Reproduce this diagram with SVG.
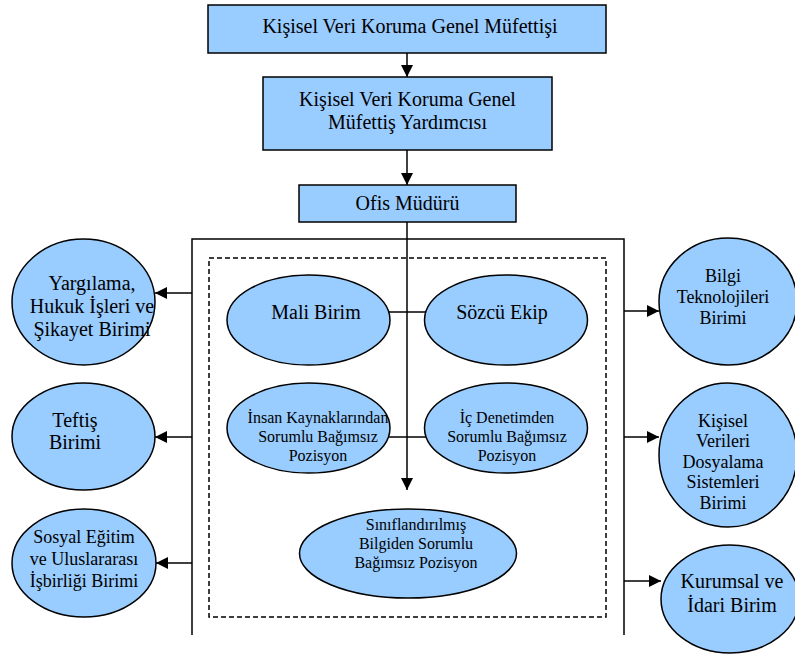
<svg xmlns="http://www.w3.org/2000/svg" width="795" height="655" viewBox="0 0 795 655">
<style>
.box{fill:#99CCFF;stroke:#000;stroke-width:1.5}
.ell{fill:#99CCFF;stroke:#000;stroke-width:1.5}
.ln{fill:none;stroke:#000;stroke-width:1.5}
.arr{fill:none;stroke:#000;stroke-width:1.5;marker-end:url(#ah)}
text{font-family:"Liberation Serif","Times New Roman",serif;fill:#000;text-anchor:middle}
.t20{font-size:20px}
.t18{font-size:18px}
.t16{font-size:16px}
</style>
<defs>
<marker id="ah" viewBox="0 0 12 12" refX="12" refY="6" markerWidth="12" markerHeight="12" markerUnits="userSpaceOnUse" orient="auto">
<path d="M0,0 L12,6 L0,12 Z" fill="#000"/>
</marker>
</defs>
<rect width="795" height="655" fill="#fff"/>
<g id="connectors">
<line class="arr" x1="407" y1="53" x2="407" y2="77"/>
<line class="arr" x1="407" y1="150" x2="407" y2="185"/>
<line class="arr" x1="407" y1="222" x2="407" y2="490"/>
<polyline class="ln" points="192,635 192,239 624,239 624,635"/>
<rect x="209" y="258" width="397" height="359" fill="none" stroke="#000" stroke-width="1.5" stroke-dasharray="5,3"/>
<line class="ln" x1="389" y1="312" x2="426" y2="312"/>
<line class="ln" x1="389" y1="437" x2="426" y2="437"/>
<line class="arr" x1="192" y1="293" x2="155" y2="293"/>
<line class="arr" x1="192" y1="437" x2="155" y2="437"/>
<line class="arr" x1="192" y1="563" x2="156" y2="563"/>
<line class="arr" x1="624" y1="311" x2="659" y2="311"/>
<line class="arr" x1="624" y1="437" x2="659" y2="437"/>
<line class="arr" x1="624" y1="581" x2="661" y2="581"/>
</g>
<g id="genel-mufettis">
<rect class="box" x="208" y="5" width="398" height="48"/>
<text class="t20" x="410" y="33">Kişisel Veri Koruma Genel Müfettişi</text>
</g>
<g id="genel-mufettis-yardimcisi">
<rect class="box" x="263" y="77" width="289" height="73"/>
<text class="t20" x="407.5" y="106">Kişisel Veri Koruma Genel</text>
<text class="t20" x="407.5" y="129">Müfettiş Yardımcısı</text>
</g>
<g id="ofis-muduru">
<rect class="box" x="299" y="185" width="217" height="37"/>
<text class="t20" x="407.5" y="210">Ofis Müdürü</text>
</g>
<g id="mali-birim">
<ellipse class="ell" cx="308.5" cy="320" rx="81.5" ry="45"/>
<text class="t20" x="316" y="319">Mali Birim</text>
</g>
<g id="sozcu-ekip">
<ellipse class="ell" cx="506" cy="320" rx="81.5" ry="45"/>
<text class="t20" x="502" y="319">Sözcü Ekip</text>
</g>
<g id="insan-kaynaklari">
<ellipse class="ell" cx="308.5" cy="428" rx="81.5" ry="45"/>
<text class="t16" x="318" y="423">İnsan Kaynaklarından</text>
<text class="t16" x="318" y="442">Sorumlu Bağımsız</text>
<text class="t16" x="318" y="461">Pozisyon</text>
</g>
<g id="ic-denetim">
<ellipse class="ell" cx="506" cy="428" rx="81.5" ry="45"/>
<text class="t16" x="507" y="423">İç Denetimden</text>
<text class="t16" x="507" y="442">Sorumlu Bağımsız</text>
<text class="t16" x="507" y="461">Pozisyon</text>
</g>
<g id="siniflandirilmis">
<ellipse class="ell" cx="408" cy="553.5" rx="108.5" ry="44.5"/>
<text class="t16" x="416" y="530">Sınıflandırılmış</text>
<text class="t16" x="416" y="549">Bilgiden Sorumlu</text>
<text class="t16" x="416" y="568">Bağımsız Pozisyon</text>
</g>
<g id="yargilama">
<ellipse class="ell" cx="83.5" cy="302" rx="71.5" ry="63"/>
<text class="t20" x="92" y="290">Yargılama,</text>
<text class="t20" x="92" y="313">Hukuk İşleri ve</text>
<text class="t20" x="92" y="336">Şikayet Birimi</text>
</g>
<g id="teftis">
<ellipse class="ell" cx="83.5" cy="436.5" rx="71.5" ry="53.5"/>
<text class="t20" x="75" y="427">Teftiş</text>
<text class="t20" x="75" y="449">Birimi</text>
</g>
<g id="sosyal-egitim">
<ellipse class="ell" cx="84" cy="563" rx="72" ry="54"/>
<text class="t18" x="84" y="543">Sosyal Eğitim</text>
<text class="t18" x="84" y="565">ve Uluslararası</text>
<text class="t18" x="84" y="587">İşbirliği Birimi</text>
</g>
<g id="bilgi-teknolojileri">
<ellipse class="ell" cx="728" cy="301.5" rx="69" ry="63.5"/>
<text class="t18" x="723" y="282">Bilgi</text>
<text class="t18" x="723" y="303">Teknolojileri</text>
<text class="t18" x="723" y="324">Birimi</text>
</g>
<g id="kisisel-verileri">
<ellipse class="ell" cx="728" cy="455" rx="69" ry="72"/>
<text class="t18" x="723" y="427">Kişisel</text>
<text class="t18" x="723" y="447">Verileri</text>
<text class="t18" x="723" y="468">Dosyalama</text>
<text class="t18" x="723" y="488">Sistemleri</text>
<text class="t18" x="723" y="509">Birimi</text>
</g>
<g id="kurumsal-idari">
<ellipse class="ell" cx="730" cy="599" rx="69" ry="54"/>
<text class="t20" x="732" y="588">Kurumsal ve</text>
<text class="t20" x="732" y="612">İdari Birim</text>
</g>
</svg>
